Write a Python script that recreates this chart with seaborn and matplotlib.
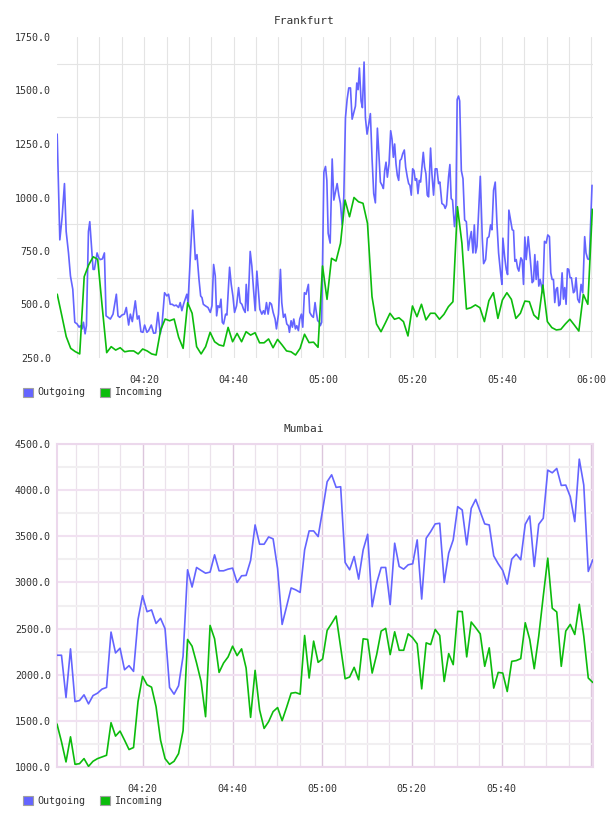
import numpy as np
import pandas as pd
import matplotlib
matplotlib.use("Agg")
import matplotlib.pyplot as plt
import seaborn as sns
from matplotlib.patches import Patch

# ---------------- data ----------------
titles = ["Frankfurt", "Mumbai"]
series_names = ["Outgoing", "Incoming"]

# Frankfurt, Outgoing: minutes after 04:00 and values
fra_out_t = [0.54, 1.13, 1.65, 2.17, 2.55, 3.07, 3.51, 4.03, 4.48, 5.0,
             5.45, 5.74, 6.12, 6.41, 6.78, 7.08, 7.53, 7.83, 8.2, 8.57,
             8.87, 9.46, 9.83, 10.2, 10.65, 11.1, 11.47, 11.91, 12.43, 13.03,
             13.77, 14.14, 14.52, 15.04, 15.56, 16.0, 16.52, 16.9, 17.34, 18.01,
             18.46, 18.83, 19.27, 19.72, 20.09, 20.61, 20.98, 21.58, 22.1, 22.55,
             23.07, 23.59, 23.96, 24.55, 25.07, 25.44, 25.82, 26.26, 26.71, 27.15,
             27.68, 28.05, 28.42, 28.79, 29.53, 29.8,
             30.84, 31.43, 31.8, 32.25, 32.62, 32.92, 33.22, 33.66, 34.26, 34.78,
             35.15, 35.52, 35.89, 36.19, 36.49, 36.86, 37.16, 37.46, 37.75, 38.2,
             38.49, 39.09, 39.46, 39.83, 40.2, 40.65, 41.1, 41.47, 41.84, 42.21,
             42.58, 42.81, 43.18, 43.7, 44.07, 44.44, 44.81, 45.19, 45.56, 45.85,
             46.3, 46.67, 46.97, 47.34, 47.71, 48.08, 48.46, 48.83, 49.27, 49.57,
             50.02, 50.46, 50.76, 51.13, 51.5, 51.88, 52.25, 52.47, 52.84, 53.14,
             53.44, 53.81, 54.11, 54.48, 54.78, 55.15, 55.45, 55.82, 56.19, 56.71,
             57.01, 57.45, 57.82, 58.2, 58.49, 58.79, 59.09, 59.38, 59.68,
             60.17, 60.54, 60.84, 61.13, 61.58, 62.03, 62.4, 62.77, 63.14, 63.51,
             63.88, 64.26, 64.63, 65.0, 65.37, 65.74, 66.12, 66.49, 66.86, 67.23,
             67.53, 67.83, 68.12, 68.49, 68.79, 69.16, 69.46, 69.83, 70.2, 70.57,
             70.95, 71.32, 71.69, 72.14, 72.43, 72.81, 73.18, 73.48, 73.77, 74.07,
             74.37, 74.74, 75.11, 75.41, 75.71, 76.0, 76.3, 76.6, 76.9, 77.19,
             77.49, 77.79, 78.16, 78.46, 78.83, 79.13, 79.42, 79.72, 80.02, 80.32,
             80.61, 80.91, 81.21, 81.51, 81.8, 82.1, 82.4, 82.7, 82.99, 83.29,
             83.59, 84.03, 84.33, 84.7, 85.07, 85.45, 85.82, 86.11, 86.56, 87.01,
             87.3, 87.6, 88.05, 88.35, 88.64, 88.94, 89.38, 89.68, 89.98, 90.28,
             90.54, 90.91, 91.28, 91.65, 92.03, 92.47, 92.77, 93.14, 93.51, 93.81,
             94.11, 94.41, 94.78, 95.15, 95.59, 95.89, 96.34, 96.71, 97.08, 97.45,
             97.75, 98.12, 98.49, 98.87, 99.24, 99.68, 99.98, 100.2, 100.58, 100.95,
             101.25, 101.54, 101.91, 102.29, 102.58, 102.88, 103.18, 103.48, 103.77, 104.22,
             104.52, 104.81, 105.11, 105.41, 105.86, 106.3, 106.75, 107.04, 107.34, 107.64,
             107.94, 108.23, 108.53, 108.83, 109.13, 109.5, 109.87, 110.24, 110.61, 110.91,
             111.21, 111.51, 111.8, 112.1, 112.4, 112.7, 112.99, 113.44, 113.74, 114.03,
             114.33, 114.63, 114.93, 115.22, 115.52, 115.97, 116.26, 116.56, 116.93, 117.3,
             117.68, 118.05, 118.49, 118.79, 119.16, 119.53, 119.83, 120.13]
fra_out_v = [1296, 802, 910, 1065, 841, 741, 633, 571, 417, 409,
             394, 401, 386, 417, 363, 401, 841, 887, 779, 664,
             664, 741, 718, 710, 713, 741, 447, 440, 432, 455,
             548, 447, 440, 451, 455, 486, 404, 455, 420, 517,
             432, 447, 373, 370, 404, 370, 378, 404, 366, 367,
             463, 363, 401, 555, 540, 548, 501, 501, 494, 497,
             486, 509, 471, 501, 548, 509,
             941, 710, 733, 617, 540, 532, 501, 494, 486, 463,
             494, 687, 633, 447, 494, 486, 525, 417, 409, 455,
             451, 674, 594, 540, 463, 494, 579, 509, 501, 478,
             463, 594, 471, 748, 679, 571, 471, 656, 555, 478,
             455, 471, 455, 509, 455, 509, 501, 463, 432, 386,
             455, 664, 509, 440, 455, 409, 401, 370, 424, 394,
             432, 386, 401, 378, 432, 455, 394, 555, 548, 594,
             463, 447, 440, 509, 463, 424, 420, 401, 417,
             1119, 1145, 1080, 833, 787, 1180, 988, 1026, 1065, 1011,
             972, 872, 1003, 1373, 1458, 1512, 1512, 1366, 1397, 1427,
             1535, 1504, 1605, 1451, 1420, 1633, 1373, 1296, 1342, 1392,
             1180, 1018, 975, 1324, 1219, 1072, 1057, 1042, 1126, 1165,
             1095, 1157, 1312, 1273, 1188, 1250, 1157, 1103, 1080, 1173,
             1180, 1204, 1222, 1142, 1095, 1065, 1057, 1011, 1134, 1126,
             1080, 1088, 1018, 1080, 1072, 1142, 1211, 1142, 1111, 1011,
             1003, 1231, 1111, 1011, 1134, 1134, 1065, 1072, 972, 965,
             949, 965, 1095, 1154, 995, 988, 864, 926, 1458, 1474,
             1451, 1126, 1088, 895, 887, 753, 802, 841, 741, 872,
             741, 772, 941, 1099, 810, 691, 710, 810, 817, 872,
             849, 1034, 1072, 880, 741, 648, 594, 810, 725, 664,
             640, 941, 895, 849, 846, 702, 710, 671, 656, 718,
             707, 594, 815, 710, 817, 718, 602, 610, 733, 617,
             702, 586, 617, 586, 555, 795, 787, 825, 817, 648,
             617, 617, 509, 571, 579, 494, 501, 648, 525, 579,
             501, 667, 664, 625, 625, 555, 563, 625, 525, 509,
             594, 555, 817, 741, 713, 710, 880, 1057]

# Frankfurt, Incoming: one value per minute
fra_in_v = [548, 450, 350, 295, 280, 269, 630, 685, 723, 711,
            490, 275, 303, 287, 298, 279, 283, 283, 269, 292,
            283, 269, 264, 381, 432, 424, 432, 347, 295, 508,
            459, 303, 269, 303, 370, 326, 311, 306, 393, 326,
            365, 326, 373, 357, 368, 321, 321, 339, 298, 337,
            311, 283, 279, 264, 295, 361, 322, 324, 300, 680,
            524, 716, 703, 786, 988, 910, 1000, 980, 973, 879,
            537, 409, 373, 415, 459, 431, 438, 420, 353, 493,
            443, 501, 428, 459, 459, 431, 454, 490, 513, 957,
            786, 479, 485, 498, 485, 420, 518, 555, 435, 521,
            555, 524, 435, 459, 516, 513, 451, 431, 591, 420,
            392, 381, 384, 409, 431, 404, 376, 547, 501, 945]

# Mumbai: one value per minute
mum_out_v = [2211, 2211, 1753, 2280, 1709, 1720, 1782, 1684, 1774, 1800,
             1844, 1862, 2462, 2236, 2287, 2054, 2098, 2036, 2600, 2856,
             2683, 2702, 2556, 2611, 2498, 1862, 1789, 1880, 2200, 3137,
             2950, 3162, 3130, 3100, 3112, 3299, 3126, 3126, 3144, 3155,
             3000, 3072, 3076, 3238, 3623, 3414, 3414, 3493, 3472, 3150,
             2545, 2740, 2940, 2920, 2892, 3353, 3558, 3558, 3497, 3785,
             4091, 4166, 4030, 4037, 3216, 3137, 3281, 3036, 3353, 3522,
             2737, 2993, 3162, 3162, 2760, 3425, 3173, 3144, 3191, 3202,
             3461, 2820, 3479, 3551, 3634, 3641, 3000, 3317, 3461, 3821,
             3785, 3407, 3803, 3900, 3767, 3634, 3623, 3288, 3202, 3130,
             2982, 3252, 3306, 3245, 3630, 3720, 3173, 3630, 3695, 4217,
             4188, 4235, 4051, 4055, 3929, 3659, 4336, 4055, 3119, 3245]
mum_in_v = [1465, 1273, 1055, 1327, 1029, 1036, 1091, 1007, 1062, 1091,
            1109, 1127, 1480, 1335, 1389, 1291, 1189, 1211, 1709, 1982,
            1891, 1865, 1654, 1291, 1091, 1029, 1062, 1145, 1393, 2382,
            2309, 2127, 1927, 1545, 2534, 2389, 2025, 2127, 2193, 2309,
            2207, 2280, 2073, 1538, 2047, 1618, 1418, 1491, 1600, 1644,
            1502, 1647, 1800, 1807, 1789, 2425, 1964, 2364, 2134, 2171,
            2480, 2556, 2636, 2298, 1956, 1975, 2080, 1945, 2389, 2382,
            2018, 2218, 2473, 2502, 2218, 2465, 2265, 2265, 2443, 2400,
            2334, 1847, 2345, 2327, 2491, 2425, 1927, 2229, 2109, 2687,
            2684, 2193, 2571, 2509, 2443, 2091, 2291, 1855, 2025, 2018,
            1818, 2145, 2153, 2174, 2563, 2382, 2065, 2418, 2850, 3263,
            2720, 2680, 2091, 2473, 2545, 2436, 2763, 2418, 1964, 1916]

# sample times (minutes after 04:00)
fra_in_t = np.linspace(0.55, 120.2, len(fra_in_v))
mum_t = np.linspace(0.85, 120.35, len(mum_out_v))

xtick_pos = [20, 40, 60, 80, 100, 120]
xtick_labels = ["04:20", "04:40", "05:00", "05:20", "05:40", "06:00"]
fra_yticks = [250, 500, 750, 1000, 1250, 1500, 1750]
mum_yticks = [1000, 1500, 2000, 2500, 3000, 3500, 4000, 4500]

# ---------------- style ----------------
sns.set_theme(style="white")
plt.rcParams['font.family'] = ['DejaVu Sans Mono', 'DejaVu Sans']
C_OUT = "#6464ff"
C_IN = "#0cbc0c"
TXT = "#333333"
MONO = "DejaVu Sans Mono"

fig = plt.figure(figsize=(6.08, 8.16), dpi=100)
W, H = 608, 816
ax1 = fig.add_axes([57 / W, 1 - 358 / H, 536 / W, 321 / H])
ax2 = fig.add_axes([57 / W, 1 - 767 / H, 536 / W, 323 / H])

df_fo = pd.DataFrame({"t": fra_out_t, "v": fra_out_v})
df_fi = pd.DataFrame({"t": fra_in_t, "v": fra_in_v})
df_mo = pd.DataFrame({"t": mum_t, "v": mum_out_v})
df_mi = pd.DataFrame({"t": mum_t, "v": mum_in_v})

for ax, dfo, dfi in [(ax1, df_fo, df_fi), (ax2, df_mo, df_mi)]:
    sns.lineplot(data=dfo, x="t", y="v", ax=ax, color=C_OUT, linewidth=1.2,
                 estimator=None, sort=False, zorder=3)
    sns.lineplot(data=dfi, x="t", y="v", ax=ax, color=C_IN, linewidth=1.2,
                 estimator=None, sort=False, zorder=4)
    ax.set_xlabel("")
    ax.set_ylabel("")
    ax.tick_params(length=0, labelsize=7.2, labelcolor=TXT)
    for lab in ax.get_xticklabels() + ax.get_yticklabels():
        lab.set_family(MONO)

five_min = list(range(5, 125, 5))

# --- Frankfurt axes ---
ax1.set_xlim(0.5, 120.35)
ax1.set_ylim(250, 1750)
ax1.set_xticks(xtick_pos)
ax1.set_xticklabels(xtick_labels, family=MONO)
ax1.set_xticks([m for m in five_min if m not in xtick_pos], minor=True)
ax1.set_yticks(fra_yticks)
ax1.set_yticklabels([f"{v:.1f}" for v in fra_yticks], family=MONO)
ax1.set_yticks([v + 125 for v in fra_yticks[:-1]], minor=True)
ax1.grid(False)
ax1.grid(True, axis="x", which="both", color="#e4e4e4", linewidth=0.8, zorder=0)
ax1.grid(True, axis="y", which="minor", color="#e4e4e4", linewidth=0.8, zorder=0)
ax1.tick_params(axis="both", which="minor", length=0)
ax1.tick_params(axis="x", pad=12)
ax1.tick_params(axis="y", pad=4.5)
for s in ax1.spines.values():
    s.set_visible(False)

# --- Mumbai axes ---
ax2.set_xlim(0.85, 120.4)
ax2.set_ylim(1000, 4500)
ax2.set_xticks(xtick_pos)
ax2.set_xticklabels(xtick_labels[:-1] + [""], family=MONO)
ax2.set_xticks([m for m in five_min if m not in xtick_pos], minor=True)
ax2.set_yticks(mum_yticks)
ax2.set_yticklabels([f"{v:.1f}" for v in mum_yticks], family=MONO)
ax2.set_yticks([v + 250 for v in mum_yticks[:-1]], minor=True)
ax2.grid(False)
ax2.grid(True, axis="x", which="major", color="#dcc6dc", linewidth=1.0, zorder=0)
ax2.grid(True, axis="x", which="minor", color="#ebe2eb", linewidth=0.9, zorder=0)
ax2.grid(True, axis="y", which="major", color="#f1e1f1", linewidth=1.5, zorder=0)
ax2.grid(True, axis="y", which="minor", color="#f1eff1", linewidth=1.5, zorder=0)
ax2.tick_params(axis="both", which="minor", length=0)
ax2.tick_params(axis="x", pad=12)
ax2.tick_params(axis="y", pad=4.5)
for s in ax2.spines.values():
    s.set_visible(True)
    s.set_color("#ecd8ec")
    s.set_linewidth(1.5)

# titles
fig.text(304 / W, 1 - 20.5 / H, titles[0], ha="center", va="center",
         fontsize=8, family=MONO, color=TXT)
fig.text(304 / W, 1 - 428.5 / H, titles[1], ha="center", va="center",
         fontsize=8, family=MONO, color=TXT)

# legends
handles = [Patch(facecolor=C_OUT, edgecolor="#a0a0a0", linewidth=0.8),
           Patch(facecolor=C_IN, edgecolor="#a0a0a0", linewidth=0.8)]
for ycen in (392.5, 800.5):
    leg = fig.legend(handles, series_names, loc="center left",
                     bbox_to_anchor=(23 / W, 1 - ycen / H), ncol=2,
                     frameon=False, prop={"family": MONO, "size": 7.2},
                     handlelength=1.0, handleheight=1.0, handletextpad=0.45,
                     columnspacing=1.45, borderaxespad=0, borderpad=0)
    for t in leg.get_texts():
        t.set_color(TXT)

fig.savefig("out.png", dpi=100, facecolor="white")
